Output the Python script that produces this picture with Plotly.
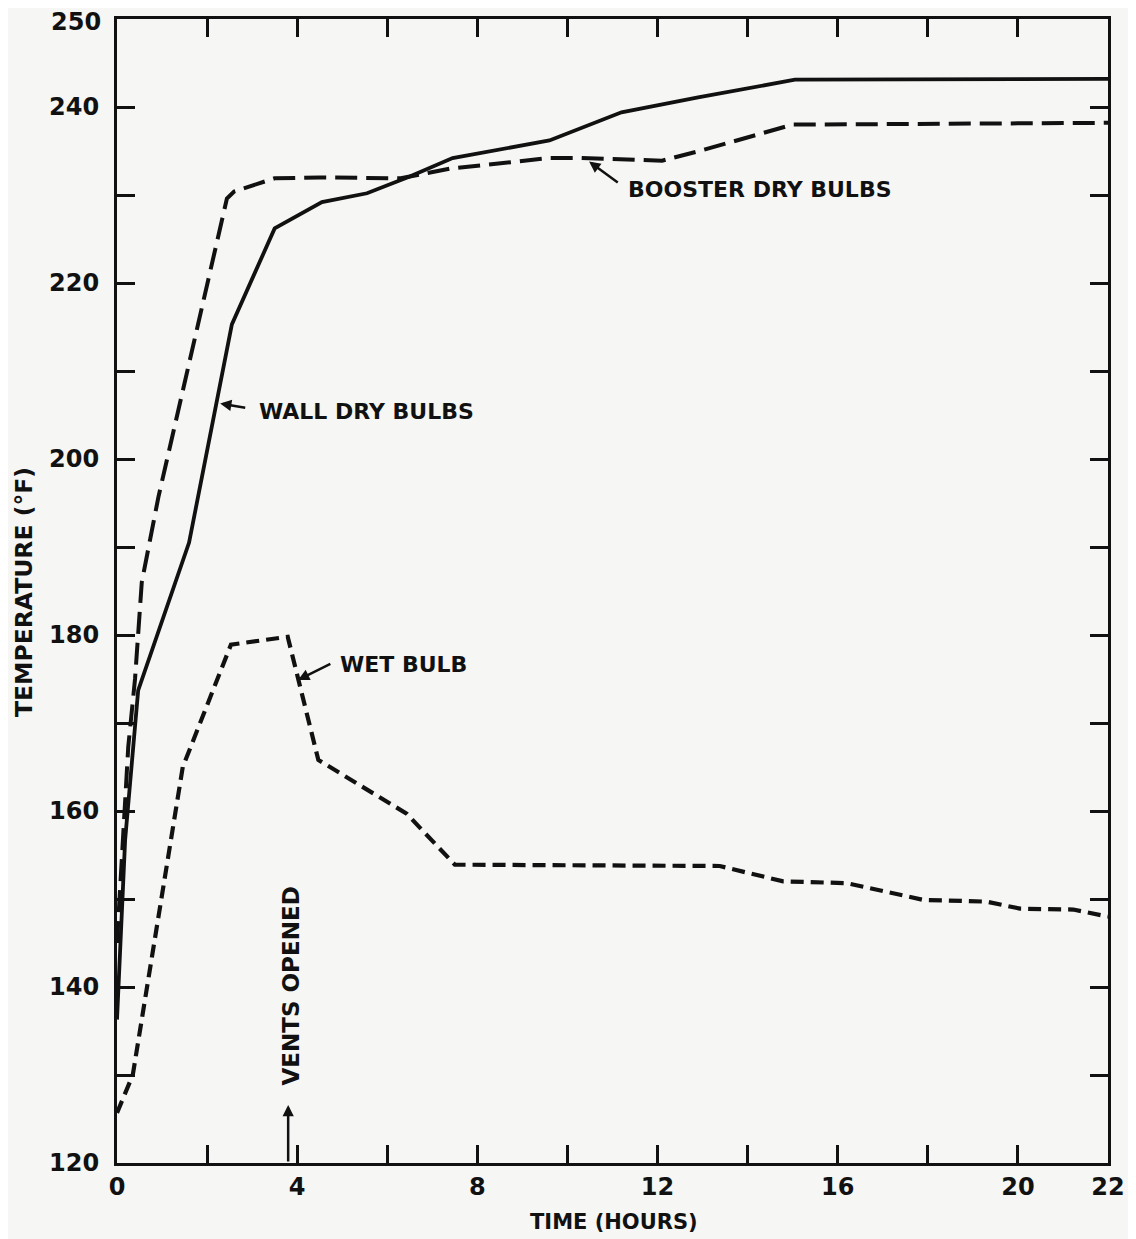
import plotly.graph_objects as go

# ---- data ----
wall_time = [0, 0.18, 0.47, 1.0, 1.6, 2.55, 3.5, 4.55, 5.55, 6.5, 7.45, 9.6, 11.2, 12.9, 15.05, 22]
wall_temp = [136.3, 156.7, 173.7, 181.5, 190.5, 215.3, 226.2, 229.2, 230.2, 232.1, 234.2, 236.2, 239.4, 241.1, 243.1, 243.2]

booster_time = [0, 0.14, 0.25, 0.4, 0.55, 0.92, 2.44, 2.6, 3.5, 4.5, 6.3, 7.4, 9.6, 10.3, 12.1, 13.0, 15.0, 22]
booster_temp = [145, 156.7, 167.3, 175, 186, 195.7, 229.6, 230.4, 231.9, 232, 231.9, 233, 234.2, 234.2, 233.9, 235.1, 238, 238.2]

wet_time = [0, 0.35, 1.46, 1.79, 2.53, 3.79, 4.02, 4.47, 6.43, 7.5, 13.38, 14.79, 16.2, 17.9, 19.3, 20.05, 21.23, 22]
wet_temp = [125.7, 130, 165, 169.3, 178.9, 179.8, 174.9, 165.8, 159.7, 153.9, 153.75, 152.0, 151.8, 149.9, 149.7, 148.9, 148.8, 148.0]

x_tickvals = list(range(0, 23, 2))
x_ticktext = ["0", "", "4", "", "8", "", "12", "", "16", "", "20", "22"]
y_tickvals = list(range(120, 251, 10))
y_ticktext = ["120", "", "140", "", "160", "", "180", "", "200", "", "220", "", "240", ""]
y_top_label = "250"   # drawn as an annotation so it is not clipped at the page top
y_top_value = 250

INK = "#111111"
BG = "#f6f6f4"
FONT = "DejaVu Sans"
tick_font = dict(family=FONT, size=24, color=INK, weight="bold")

fig = go.Figure()
fig.add_trace(go.Scatter(x=wall_time, y=wall_temp, mode="lines",
                         line=dict(color=INK, width=3.8), showlegend=False))
fig.add_trace(go.Scatter(x=booster_time, y=booster_temp, mode="lines",
                         line=dict(color=INK, width=4, dash="22px,9px"), showlegend=False))
fig.add_trace(go.Scatter(x=wet_time, y=wet_temp, mode="lines",
                         line=dict(color=INK, width=4.2, dash="13px,7px"), showlegend=False))

axis_common = dict(showline=True, linewidth=3, linecolor=INK, mirror="ticks",
                   ticks="inside", ticklen=18, tickwidth=2.5, tickcolor=INK,
                   showgrid=False, zeroline=False, automargin=False,
                   ticklabeloverflow="allow", tickfont=tick_font)

fig.update_xaxes(range=[0, 22], tickmode="array", tickvals=x_tickvals, ticktext=x_ticktext,
                 **axis_common)
fig.update_yaxes(range=[120, 250], tickmode="array", tickvals=y_tickvals, ticktext=y_ticktext,
                 ticklabelstandoff=10, **axis_common)

lab_font = dict(family=FONT, size=22, color=INK, weight="bold")
ann = []
ann.append(dict(xref="paper", yref="y", x=0, y=y_top_value, text=y_top_label,
                showarrow=False, xanchor="right", yanchor="middle", xshift=-14, yshift=-3,
                font=tick_font))
# curve labels with pointer arrows
ann.append(dict(x=2.29, y=206.3, ax=2.88, ay=205.8, axref="x", ayref="y", text="",
                showarrow=True, arrowhead=2, arrowsize=0.9, arrowwidth=2.5, arrowcolor=INK))
ann.append(dict(x=3.10, y=205.4, text="WALL DRY BULBS", showarrow=False,
                xanchor="left", yanchor="middle", font=lab_font))
ann.append(dict(x=10.48, y=233.8, ax=11.15, ay=231.3, axref="x", ayref="y", text="",
                showarrow=True, arrowhead=2, arrowsize=0.9, arrowwidth=2.5, arrowcolor=INK))
ann.append(dict(x=11.31, y=230.6, text="BOOSTER DRY BULBS", showarrow=False,
                xanchor="left", yanchor="middle", font=lab_font))
ann.append(dict(x=4.02, y=174.9, ax=4.77, ay=176.8, axref="x", ayref="y", text="",
                showarrow=True, arrowhead=2, arrowsize=0.9, arrowwidth=2.5, arrowcolor=INK))
ann.append(dict(x=4.91, y=176.6, text="WET BULB", showarrow=False,
                xanchor="left", yanchor="middle", font=lab_font))
ann.append(dict(x=3.8, y=126.6, ax=3.8, ay=120, axref="x", ayref="y", text="",
                showarrow=True, arrowhead=2, arrowsize=0.9, arrowwidth=2.5, arrowcolor=INK))
ann.append(dict(x=3.87, y=140.1, text="VENTS OPENED", textangle=-90, showarrow=False,
                xanchor="center", yanchor="middle",
                font=dict(family=FONT, size=23, color=INK, weight="bold")))
# axis titles
ann.append(dict(xref="paper", yref="paper", x=-0.094, y=0.499, text="TEMPERATURE (°F)",
                textangle=-90, showarrow=False, xanchor="center", yanchor="middle",
                font=dict(family=FONT, size=23.5, color=INK, weight="bold")))
ann.append(dict(xref="paper", yref="paper", x=0.5015, y=-0.0516, text="TIME (HOURS)",
                showarrow=False, xanchor="center", yanchor="middle",
                font=dict(family=FONT, size=21, color=INK, weight="bold")))

# the page adds an 8px body margin, so the figure is sized and offset to match
fig.update_layout(width=1128, height=1231,
                  margin=dict(l=109, r=28, t=11, b=76, autoexpand=False),
                  paper_bgcolor=BG, plot_bgcolor=BG,
                  annotations=ann, showlegend=False)

fig.write_html("out.html")
